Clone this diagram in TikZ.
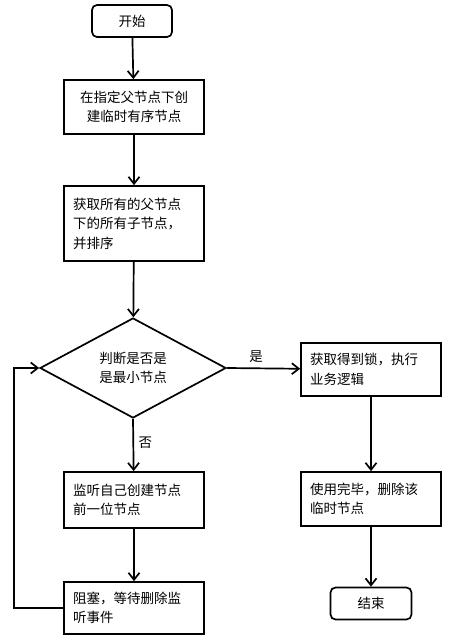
\documentclass[tikz,border=0pt]{standalone}
\usepackage{fontspec}
\usepackage{xcolor}
\usepackage{tikz}
\newfontfamily\cjk{Noto Sans CJK SC}
\usetikzlibrary{arrows.meta,shapes.geometric}

\begin{document}
\begin{tikzpicture}[x=1pt,y=-1pt,
  line width=1.7pt,
  arr/.style={-{Straight Barb[length=7pt,width=11pt]}},
  box/.style={draw,minimum width=140pt,text width=122pt,inner xsep=9pt,inner ysep=0pt,align=left},
  term/.style={draw,rounded corners=5pt,minimum height=32pt,inner sep=0pt},
  judgebox/.style={draw,diamond,aspect=1.86,minimum width=186pt,minimum height=100pt,inner sep=0pt,align=center}]
\cjk\fontsize{13.5}{19.5}\selectfont
\useasboundingbox (0,0) rectangle (453,642);
  \node[term,minimum width=80pt] (start) at (132,21) {开始};
  \node[box,align=center,minimum height=54pt] (mk) at (134,107) {在指定父节点下创\\建临时有序节点};
  \node[box,minimum height=75pt] (sort) at (134,223.5) {获取所有的父节点\\下的所有子节点，\\并排序};
  \node[judgebox] (judge) at (133,368) {判断是否是\\是最小节点};
  \node[box,minimum height=53pt] (lock) at (371,369.5) {获取得到锁，执行\\业务逻辑};
  \node[box,minimum height=54pt] (del) at (371,499) {使用完毕，删除该\\临时节点};
  \node[term,minimum width=81pt] (end) at (371,603.5) {结束};
  \node[box,minimum height=56pt] (watch) at (134,500) {监听自己创建节点\\前一位节点};
  \node[box,minimum height=52pt] (block) at (134,608) {阻塞，等待删除监\\听事件};
  \coordinate (turn) at (14,608);
  \draw[arr] (start) -- (mk);
  \draw[arr] (mk) -- (sort);
  \draw[arr] (sort) -- (judge);
  \draw[arr] (judge.east) -- node[above,pos=0.4] (yes) {是} (lock);
  \draw[arr] (judge.south) -- node[right,pos=0.45] (no) {否} (watch);
  \draw[arr] (watch) -- (block);
  \draw[arr] (block.west) -- (turn) |- (judge.west);
  \draw[arr] (lock) -- (del);
  \draw[arr] (del) -- (end);
\end{tikzpicture}
\end{document}
